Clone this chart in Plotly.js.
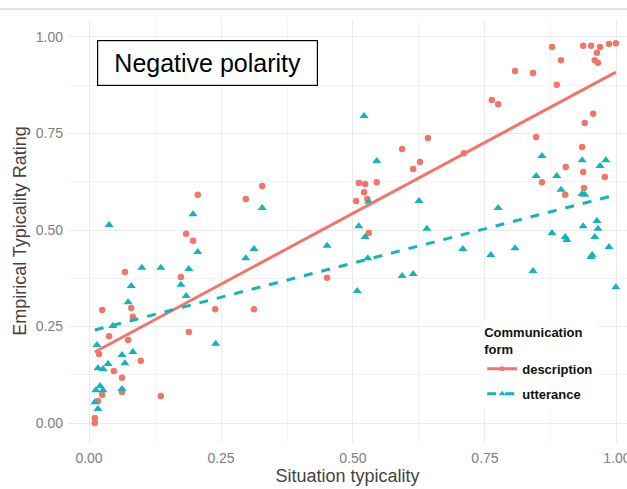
<!DOCTYPE html>
<html><head><meta charset="utf-8">
<script src="https://cdn.plot.ly/plotly-3.0.1.min.js"></script>
<style>body{margin:0;background:#fff;overflow:hidden}#chart{width:627px;height:489px}</style>
</head><body><div id="chart"></div>
<script>
// description (red circles)
const descX = [0.011,0.011,0.017,0.025,0.0625,0.136,0.0625,0.047,0.098,0.019,0.074,0.038,0.083,0.080,0.025,0.068,0.174,0.189,0.239,0.3125,0.184,0.197,0.206,0.297,0.328,0.451,0.506,0.511,0.523,0.521,0.527,0.545,0.530,0.593,0.614,0.627,0.642,0.710,0.763,0.775,0.807,0.841,0.877,0.894,0.886,0.847,0.858,0.903,0.902,0.934,0.936,0.9375,0.939,0.955,0.936,0.951,0.968,0.962,0.958,0.964,0.985,0.998,0.977];
const descY = [0.000,0.013,0.057,0.073,0.080,0.070,0.117,0.135,0.161,0.179,0.215,0.225,0.275,0.298,0.293,0.391,0.378,0.236,0.295,0.295,0.490,0.472,0.591,0.580,0.614,0.376,0.575,0.622,0.619,0.598,0.580,0.624,0.492,0.710,0.658,0.676,0.738,0.699,0.837,0.826,0.912,0.907,0.974,0.940,0.876,0.741,0.624,0.663,0.591,0.715,0.650,0.609,0.777,0.801,0.977,0.977,0.974,0.959,0.940,0.933,0.982,0.984,0.637];
// utterance (teal triangles)
const uttX = [0.011,0.017,0.013,0.021,0.0265,0.0625,0.015,0.017,0.0265,0.036,0.068,0.0625,0.083,0.045,0.074,0.080,0.100,0.136,0.174,0.184,0.189,0.206,0.197,0.038,0.240,0.297,0.3125,0.328,0.451,0.508,0.511,0.523,0.528,0.530,0.521,0.545,0.593,0.614,0.625,0.640,0.708,0.761,0.775,0.807,0.841,0.858,0.847,0.886,0.877,0.894,0.902,0.905,0.934,0.934,0.939,0.936,0.962,0.964,0.958,0.953,0.951,0.979,0.968,0.985,0.998];
const uttY = [0.054,0.036,0.085,0.096,0.085,0.088,0.202,0.142,0.140,0.153,0.155,0.176,0.184,0.251,0.313,0.355,0.402,0.402,0.358,0.329,0.399,0.443,0.541,0.513,0.205,0.427,0.451,0.557,0.459,0.342,0.510,0.482,0.427,0.573,0.795,0.679,0.381,0.386,0.575,0.503,0.451,0.435,0.557,0.453,0.394,0.692,0.640,0.640,0.492,0.604,0.482,0.474,0.681,0.593,0.591,0.510,0.523,0.503,0.482,0.435,0.430,0.681,0.666,0.456,0.352];
// fitted lines
const descFitX = [0.011, 0.998];
const descFitY = [0.184, 0.909];
const uttFitX = [0.011, 0.998];
const uttFitY = [0.241, 0.591];
const xTicks = [0, 0.25, 0.5, 0.75, 1];
const yTicks = [0, 0.25, 0.5, 0.75, 1];

const RED = '#F0766C', TEAL = '#14B4B8';
const traces = [
  {x: descX, y: descY, type:'scatter', mode:'markers', showlegend:false,
   marker:{symbol:'circle', size:6.5, color:RED}},
  {x: uttX, y: uttY, type:'scatter', mode:'markers', showlegend:false,
   marker:{symbol:'triangle-up', size:8, color:TEAL}},
  {x: descFitX, y: descFitY, type:'scatter', mode:'lines', showlegend:false,
   line:{color:RED, width:3}},
  {x: uttFitX, y: uttFitY, type:'scatter', mode:'lines', showlegend:false,
   line:{color:TEAL, width:3, dash:'dash'}},
  {x:[null], y:[null], type:'scatter', mode:'lines+markers', name:'<b>description</b>', legendgroup:'a',
   marker:{symbol:'circle', size:5, color:RED}, line:{color:RED, width:3}},
  {x:[null], y:[null], type:'scatter', mode:'lines+markers', name:'<b>utterance</b>', legendgroup:'b',
   marker:{symbol:'triangle-up', size:6, color:TEAL}, line:{color:TEAL, width:3, dash:'dash'}}
];
const gridC = '#EBEBEB';
const layout = {
  width:627, height:489,
  margin:{l:68, r:0, t:19, b:46},
  paper_bgcolor:'#fff', plot_bgcolor:'#fff',
  font:{family:'Liberation Sans, Arial, sans-serif', color:'#333'},
  xaxis:{range:[-0.0398,1.019], tickvals:xTicks, ticktext:xTicks.map(v=>v.toFixed(2)),
    showgrid:true, gridcolor:gridC, gridwidth:1, zeroline:false, showline:false, ticks:'',
    tickfont:{size:14, color:'#808080'}, ticklabelstandoff:5, ticklabeloverflow:'allow',
    minor:{dtick:0.125, tick0:0.125, showgrid:true, gridcolor:'#F3F3F3', gridwidth:1},
    title:{text:'Situation typicality', font:{size:18, color:'#444'}, standoff:4}},
  yaxis:{range:[-0.0518,1.0466], tickvals:yTicks, ticktext:yTicks.map(v=>v.toFixed(2)),
    showgrid:true, gridcolor:gridC, gridwidth:1, zeroline:false, showline:false, ticks:'',
    tickfont:{size:14, color:'#808080'}, ticklabelstandoff:4,
    minor:{dtick:0.125, tick0:0.125, showgrid:true, gridcolor:'#F3F3F3', gridwidth:1},
    title:{text:'Empirical Typicality Rating', font:{size:18, color:'#444'}, standoff:4}},
  legend:{x:0.741, y:0.29, xanchor:'left', yanchor:'top', bgcolor:'#fff',
    title:{text:'<b>Communication<br>form</b>', font:{size:13, color:'#111'}},
    font:{size:13, color:'#111'}, traceorder:'grouped', tracegroupgap:5,
    itemwidth:30},
  annotations:[{xref:'paper', yref:'paper', x:(207.5-68)/559, y:1-(63-19)/424,
    xanchor:'center', yanchor:'middle', text:'Negative polarity', showarrow:false,
    font:{size:25, color:'#000'}, bgcolor:'#fff', bordercolor:'#000', borderwidth:1.2,
    width:215, height:40, borderpad:2}],
  shapes:[{type:'line', xref:'paper', yref:'paper', x0:-68/559, x1:1, y0:1+10/424, y1:1+10/424,
    line:{color:'#C8C8C8', width:1}}]
};
Plotly.newPlot('chart', traces, layout, {displayModeBar:false, staticPlot:true});
</script></body></html>
